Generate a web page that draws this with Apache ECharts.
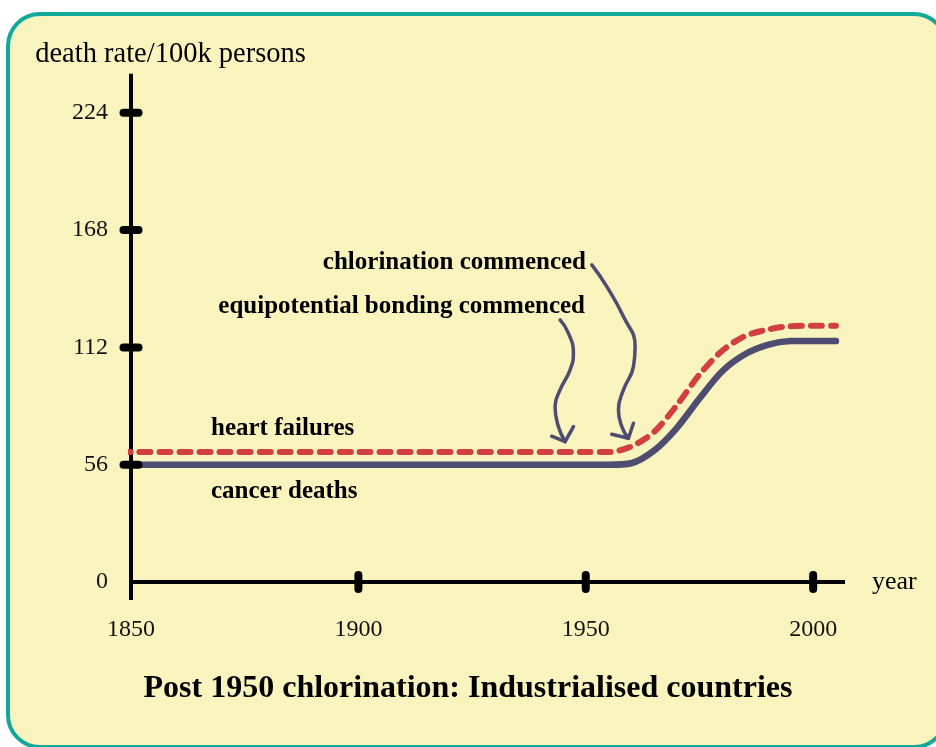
<!DOCTYPE html>
<html><head><meta charset="utf-8">
<script src="https://cdn.jsdelivr.net/npm/echarts@6/dist/echarts.min.js"></script>
<style>html,body{margin:0;padding:0;background:#fff}#c{width:936px;height:747px}</style>
</head><body><div id="c"></div>
<script>
// ---- data ----
const years = [1847.5, 1900, 1950, 1955, 1960, 1965, 1970, 1975, 1980, 1985, 1990, 1995, 2000, 2005];
const heartFailures = [62, 62, 62, 62, 64.7, 71.6, 84.3, 99.0, 110.4, 117.4, 120.5, 122.1, 122.3, 122.3];
const cancerDeaths  = [56, 56, 56, 56, 56.7, 62.7, 73.5, 87.6, 100.6, 108.7, 113.2, 115.0, 115.1, 115];
const xTicks = [1850, 1900, 1950, 2000];
const yTicks = [0, 56, 112, 168, 224];
const xRange = [1846, 2007];
const yRange = [-8.6, 242.6];
// annotation arrows (data coordinates: year, value)
const arrowBondingPath = [[1944.35,125.1],[1946.18,118.8],[1947.28,109.2],[1946.55,101.3],[1944.35,91.7],[1943.25,83.7],[1943.98,74.2],[1945.45,67.0]];
const arrowBondingHead = [[1942.5,69.6],[1945.45,67.0],[1947.3,74.2]];
const arrowChlorPath = [[1951.33,151.4],[1954.63,141.0],[1958.28,126.7],[1960.85,112.4],[1960.48,102.8],[1958.28,91.7],[1957.18,82.1],[1957.92,74.2],[1959.38,68.6]];
const arrowChlorHead = [[1955.72,70.5],[1959.38,68.6],[1960.48,75.8]];

const RED = '#d23f41', DARK = '#4f4c72';
const serif = '"Liberation Serif", "Times New Roman", serif';

const chart = echarts.init(document.getElementById('c'), null, {renderer: 'canvas'});
const zip = (xs, ys) => xs.map((x, i) => [x, ys[i]]);

const option = {
  backgroundColor: '#ffffff',
  animation: false,
  title: {
    text: 'Post 1950 chlorination: Industrialised countries',
    left: 'center', top: 668,
    textStyle: {fontFamily: serif, fontWeight: 'bold', fontSize: 32, color: '#000'}
  },
  graphic: [
    {type: 'rect', z: -10, shape: {x: 8, y: 14, width: 938, height: 733, r: 32},
     style: {fill: '#f9f4be', stroke: '#13a89a', lineWidth: 4}},
    {type: 'text', style: {x: 211, y: 429, text: 'heart failures', font: 'bold 25px ' + serif, fill: '#000', verticalAlign: 'middle'}},
    {type: 'text', style: {x: 211, y: 492, text: 'cancer deaths', font: 'bold 25px ' + serif, fill: '#000', verticalAlign: 'middle'}},
    {type: 'text', style: {x: 585, y: 307, text: 'equipotential bonding commenced', font: 'bold 25px ' + serif, fill: '#000', align: 'right', verticalAlign: 'middle'}},
    {type: 'text', style: {x: 586, y: 263, text: 'chlorination commenced', font: 'bold 25px ' + serif, fill: '#000', align: 'right', verticalAlign: 'middle'}}
  ],
  grid: {left: 131, right: 91, top: 96, bottom: 165},
  xAxis: {
    type: 'value', min: 1850, max: 2007, interval: 50,
    name: 'year', nameLocation: 'end', nameGap: 27,
    nameTextStyle: {fontFamily: serif, fontSize: 26, color: '#000', align: 'left', verticalAlign: 'middle'},
    axisLine: {show: false}, axisTick: {show: false}, splitLine: {show: false},
    axisLabel: {margin: 36, fontFamily: serif, fontSize: 24, color: '#111', showMaxLabel: false,
      formatter: v => xTicks.includes(v) ? String(v) : ''}
  },
  yAxis: {
    type: 'value', min: 0, max: 232, interval: 56,
    name: 'death rate/100k persons', nameLocation: 'end', nameGap: 27,
    nameTextStyle: {fontFamily: serif, fontSize: 28.5, color: '#000', align: 'center', padding: [0, 0, 0, 79]},
    axisLine: {show: false}, axisTick: {show: false}, splitLine: {show: false},
    axisLabel: {margin: 23, fontFamily: serif, fontSize: 24, color: '#111', showMaxLabel: false, padding: [4, 0, 0, 0],
      formatter: v => yTicks.includes(v) ? String(v) : ''}
  },
  series: [
    {type: 'line', name: 'x axis', data: [[xRange[0], 0], [xRange[1], 0]], clip: false, silent: true,
     symbol: 'none', lineStyle: {color: '#000', width: 4}},
    {type: 'line', name: 'y axis', data: [[1850, yRange[0]], [1850, yRange[1]]], clip: false, silent: true,
     symbol: 'none', lineStyle: {color: '#000', width: 4}},
    {type: 'line', name: 'cancer deaths', data: zip(years, cancerDeaths), clip: false, symbol: 'none',
     smooth: 0.3, lineStyle: {color: DARK, width: 6.5, cap: 'round', join: 'round'}},
    {type: 'line', name: 'heart failures', data: zip(years, heartFailures), clip: false, symbol: 'none',
     smooth: 0.3, lineStyle: {color: RED, width: 6, type: [11, 9], cap: 'round', join: 'round'}},
    {type: 'line', name: 'arrow1', data: arrowBondingPath, clip: false, symbol: 'none', smooth: 0.5,
     lineStyle: {color: DARK, width: 3.5, cap: 'round', join: 'round'}},
    {type: 'line', name: 'arrow1head', data: arrowBondingHead, clip: false, symbol: 'none',
     lineStyle: {color: DARK, width: 3.5, cap: 'round', join: 'round'}},
    {type: 'line', name: 'arrow2', data: arrowChlorPath, clip: false, symbol: 'none', smooth: 0.5,
     lineStyle: {color: DARK, width: 3.5, cap: 'round', join: 'round'}},
    {type: 'line', name: 'arrow2head', data: arrowChlorHead, clip: false, symbol: 'none',
     lineStyle: {color: DARK, width: 3.5, cap: 'round', join: 'round'}},
    {type: 'scatter', name: 'y ticks', z: 6, data: yTicks.filter(v => v > 0).map(v => [1850, v]), clip: false, silent: true,
     symbol: 'path://M4,0H19A4,4 0 0 1 19,8H4A4,4 0 0 1 4,0Z', symbolSize: [23, 8], itemStyle: {color: '#000', opacity: 1}},
    {type: 'scatter', name: 'x ticks', z: 6, data: xTicks.filter(v => v > 1850).map(v => [v, 0]), clip: false, silent: true,
     symbol: 'path://M0,4A4,4 0 0 1 8,4V18A4,4 0 0 1 0,18Z', symbolSize: [8, 22], itemStyle: {color: '#000', opacity: 1}}
  ]
};
chart.setOption(option);
</script>
</body></html>
